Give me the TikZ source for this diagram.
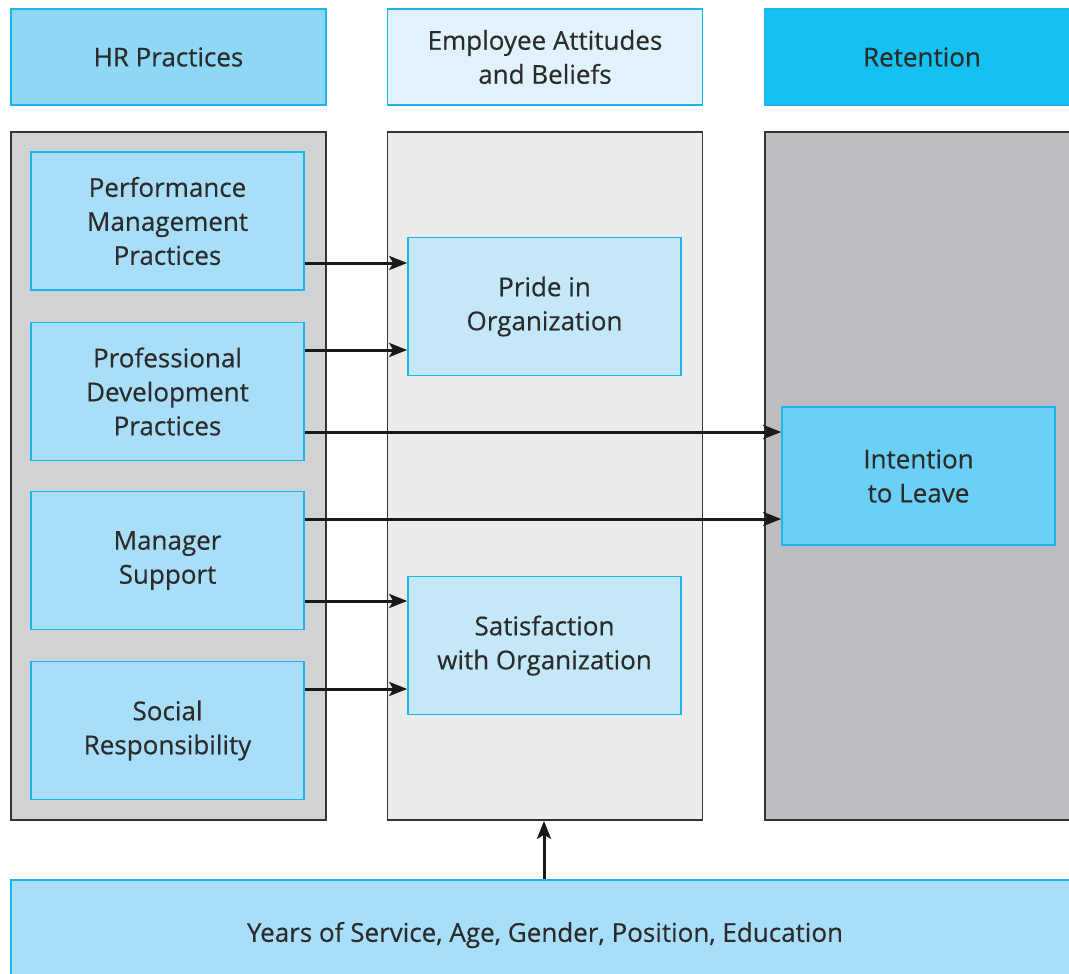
\documentclass[tikz,border=0pt]{standalone}
\usepackage{fontspec}
\setmainfont{Open Sans}[UprightFeatures={FakeBold=0.35}]
\usetikzlibrary{arrows.meta}
\definecolor{cyanline}{HTML}{1DB4EC}
\definecolor{hrhead}{HTML}{8FD8F5}
\definecolor{atthead}{HTML}{E0F3FC}
\definecolor{rethead}{HTML}{14C1F0}
\definecolor{hrbox}{HTML}{A8DEF8}
\definecolor{attbox}{HTML}{C5E8F9}
\definecolor{retbox}{HTML}{6CCFF6}
\definecolor{panelA}{HTML}{D1D2D4}
\definecolor{panelB}{HTML}{EBEBEB}
\definecolor{panelC}{HTML}{BCBDC1}
\definecolor{txt}{HTML}{2B2B2B}
\tikzset{
  blk/.style={draw=cyanline,line width=1.6pt,align=center,text=txt,
    font=\fontsize{26}{34}\selectfont,inner sep=0pt,
    minimum width=273pt,minimum height=138pt},
  head/.style={blk,minimum width=315pt,minimum height=96pt},
  panel/.style={draw=black!80,line width=1.6pt,inner sep=0pt,
    minimum width=315pt,minimum height=688pt},
  link/.style={-{Stealth[length=18pt,width=14pt,inset=4pt]},line width=3pt,draw=black!90}
}
\begin{document}
\begin{tikzpicture}[x=1pt,y=-1pt]
  \useasboundingbox (0,0) rectangle (1069,974);
  \clip (0,0) rectangle (1069,974);
  % column headers
  \node[head,fill=hrhead]  (hrhead)  at (168.5,57) {HR Practices};
  \node[head,fill=atthead] (atthead) at (545,57) {Employee Attitudes\\and Beliefs};
  \node[head,fill=rethead] (rethead) at (922,57) {Retention};
  % grey panels
  \node[panel,fill=panelA] (hrpanel)  at (168.5,476) {};
  \node[panel,fill=panelB] (attpanel) at (545,476) {};
  \node[panel,fill=panelC,minimum width=320pt] (retpanel) at (925,476) {};
  % HR practices
  \node[blk,fill=hrbox] (perf)    at (167.5,221)   {Performance\\Management\\Practices};
  \node[blk,fill=hrbox] (prof)    at (167.5,391.5) {Professional\\Development\\Practices};
  \node[blk,fill=hrbox] (manager) at (167.5,560.5) {Manager\\Support};
  \node[blk,fill=hrbox] (social)  at (167.5,730.5) {Social\\Responsibility};
  % attitudes
  \node[blk,fill=attbox] (pride) at (544.5,306.5) {Pride in\\Organization};
  \node[blk,fill=attbox] (satis) at (544.5,645.5) {Satisfaction\\with Organization};
  % retention
  \node[blk,fill=retbox] (leave) at (918.5,476) {Intention\\to Leave};
  % demographics
  \node[blk,fill=hrbox,minimum width=1068pt,minimum height=110pt] (demo) at (545,935)
        {Years of Service, Age, Gender, Position, Education};
  % arrows
  \foreach \s/\t/\y in {perf/pride/263,prof/pride/350,prof/leave/432,
      manager/leave/519,manager/satis/601,social/satis/689}
    \draw[link] (\s.east |- 0,\y) -- (\t.west |- 0,\y);
  \draw[link] (demo.north -| 544,0) -- (attpanel.south -| 544,0);
\end{tikzpicture}
\end{document}
